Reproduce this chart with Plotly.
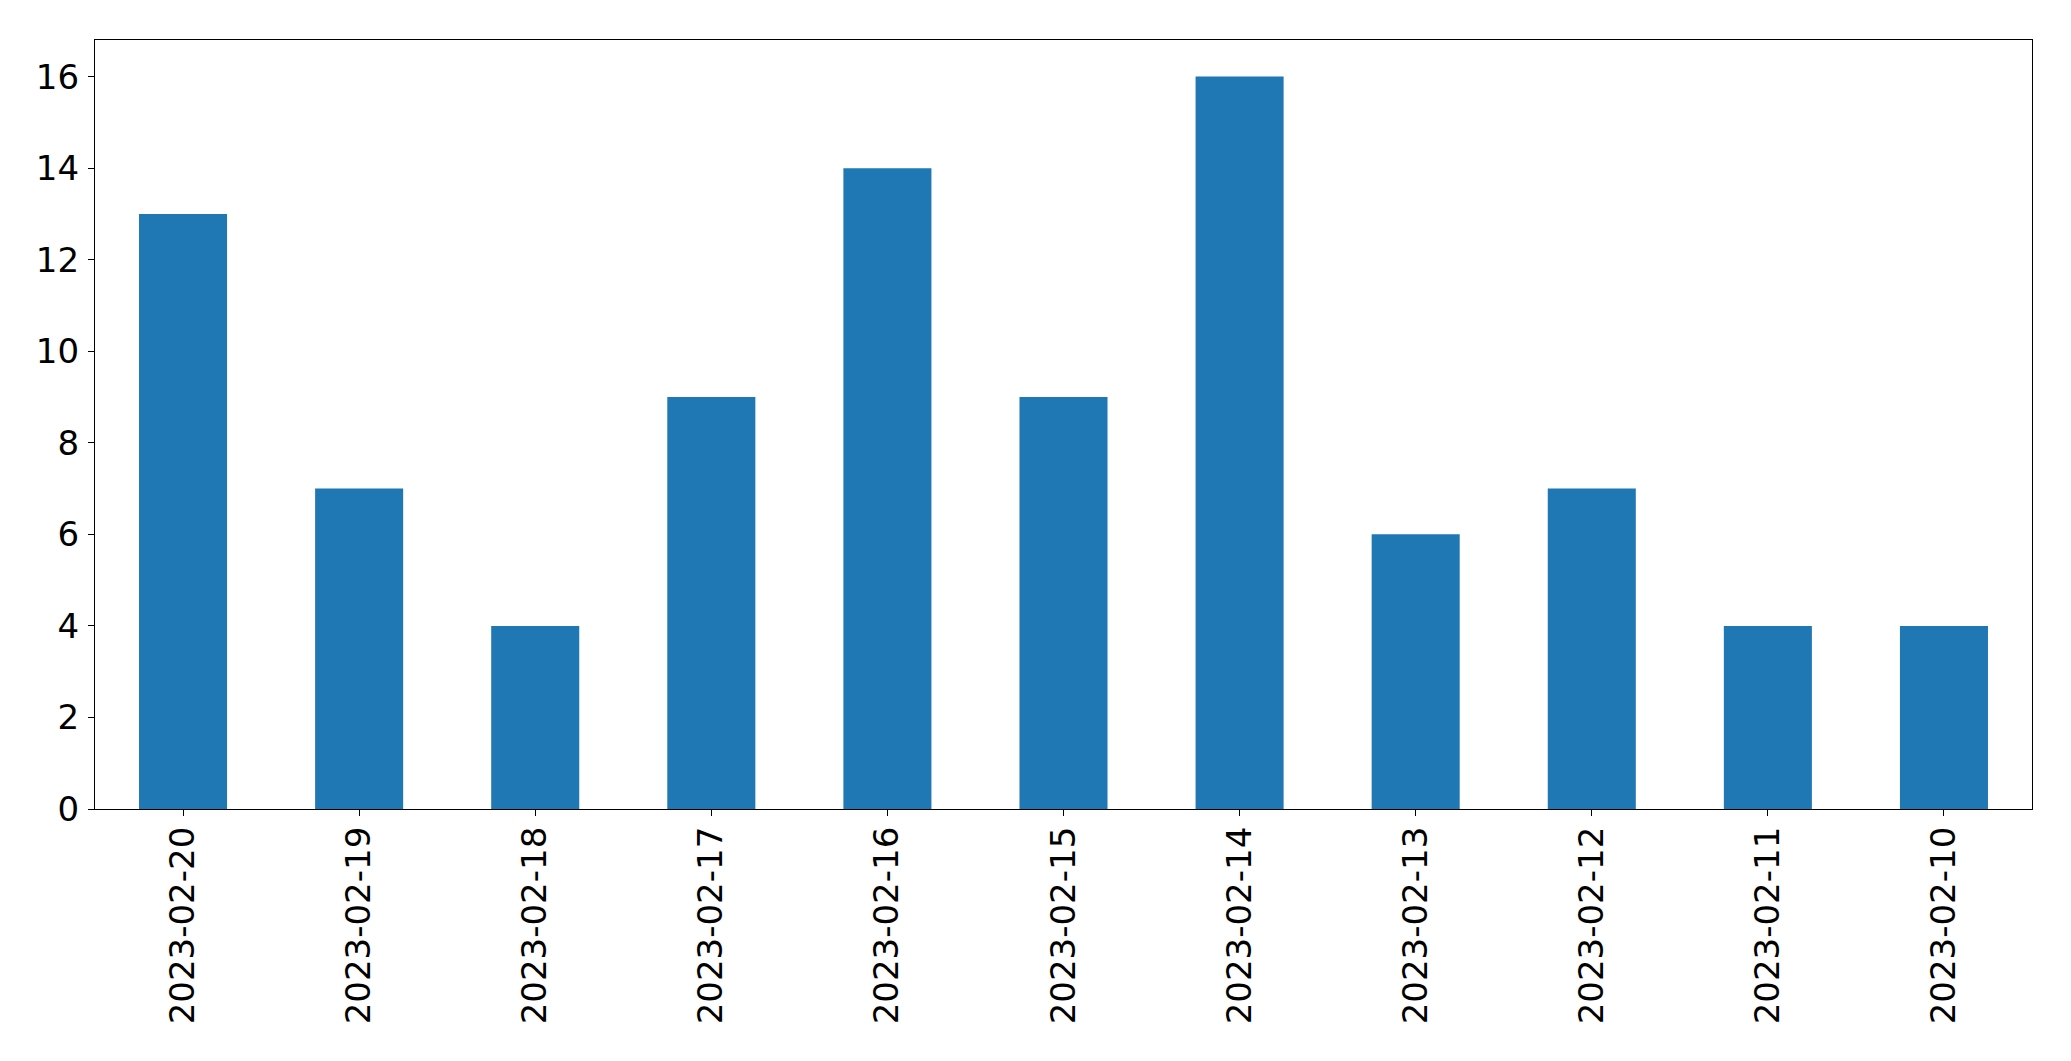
import plotly.graph_objects as go

dates = ["2023-02-20", "2023-02-19", "2023-02-18", "2023-02-17", "2023-02-16",
         "2023-02-15", "2023-02-14", "2023-02-13", "2023-02-12", "2023-02-11",
         "2023-02-10"]
counts = [13, 7, 4, 9, 14, 9, 16, 6, 7, 4, 4]
y_ticks = [0, 2, 4, 6, 8, 10, 12, 14, 16]

fig = go.Figure(go.Bar(x=dates, y=counts, marker=dict(color="#1f77b4", line=dict(width=0)),
                       width=0.5))

# page body has an 8px margin, so the figure is drawn 8px in from the top-left
W, H = 2063, 1053
fig.update_layout(
    width=W, height=H,
    margin=dict(l=86.5, r=38.5, t=31.5, b=251.5),
    paper_bgcolor="white", plot_bgcolor="white",
    font=dict(family="DejaVu Sans", size=34, color="black"),
    showlegend=False,
)
fig.update_xaxes(type="category", range=[-0.5, 10.5], showline=True, linecolor="black",
                 linewidth=1.3, mirror=True, ticks="outside", ticklen=6, tickwidth=1.3,
                 tickcolor="black", tickangle=-90, showgrid=False, zeroline=False,
                 ticklabelstandoff=-3)
fig.update_yaxes(range=[0, 16.8], tickvals=y_ticks, showline=True, linecolor="black",
                 linewidth=1.3, mirror=True, ticks="outside", ticklen=6, tickwidth=1.3,
                 tickcolor="black", showgrid=False, zeroline=False, ticklabelstandoff=2)

fig.write_html("out.html")
